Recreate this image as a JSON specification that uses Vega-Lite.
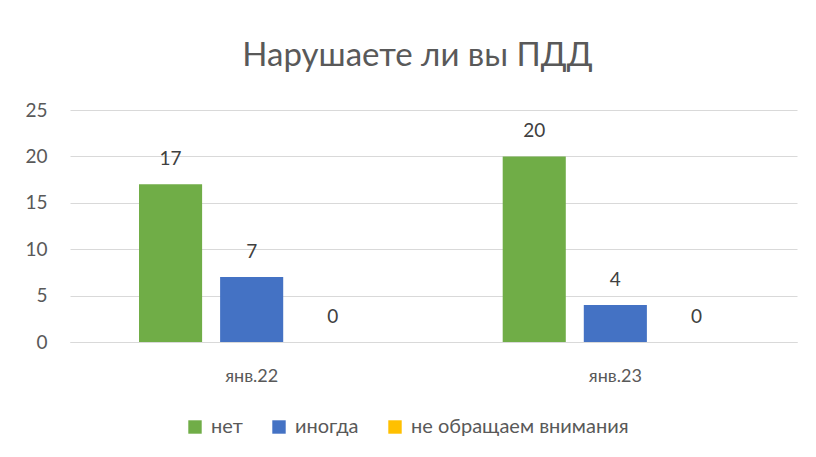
{
  "$schema": "https://vega.github.io/schema/vega-lite/v6.json",
  "width": 727,
  "height": 232,
  "autosize": {"type": "none"},
  "padding": {"left": 70, "top": 110, "right": 19, "bottom": 115},
  "background": "white",
  "config": {"view": {"stroke": null}},
  "title": {
    "text": "Нарушаете ли вы ПДД",
    "font": "Lato",
    "fontSize": 33,
    "fontWeight": "normal",
    "color": "#595959",
    "anchor": "middle",
    "baseline": "alphabetic",
    "offset": 2,
    "dx": -16
  },
  "data": {
    "values": [
      {"period": "янв.22", "answer": "нет", "value": 17},
      {"period": "янв.22", "answer": "иногда", "value": 7},
      {"period": "янв.22", "answer": "не обращаем внимания", "value": 0},
      {"period": "янв.23", "answer": "нет", "value": 20},
      {"period": "янв.23", "answer": "иногда", "value": 4},
      {"period": "янв.23", "answer": "не обращаем внимания", "value": 0}
    ]
  },
  "encoding": {
    "x": {
      "field": "period",
      "type": "nominal",
      "scale": {"paddingInner": 0.331, "paddingOuter": 0.165},
      "axis": {
        "title": null,
        "labelAngle": 0,
        "labelFont": "Lato",
        "labelFontSize": 18,
        "labelColor": "#595959",
        "labelPadding": 25,
        "ticks": false,
        "domainColor": "#d9d9d9",
        "domainWidth": 1
      }
    },
    "xOffset": {
      "field": "answer",
      "type": "nominal",
      "sort": ["нет", "иногда", "не обращаем внимания"],
      "scale": {"paddingInner": 0.222, "paddingOuter": 0.111}
    },
    "y": {
      "field": "value",
      "type": "quantitative",
      "scale": {"domain": [0, 25]},
      "axis": {
        "title": null,
        "values": [0, 5, 10, 15, 20, 25],
        "labelFont": "Lato",
        "labelFontSize": 19,
        "labelColor": "#595959",
        "labelPadding": 23,
        "ticks": false,
        "domain": false,
        "gridColor": "#d9d9d9",
        "gridWidth": 1
      }
    }
  },
  "layer": [
    {
      "mark": {"type": "bar"},
      "encoding": {
        "color": {
          "field": "answer",
          "type": "nominal",
          "sort": ["нет", "иногда", "не обращаем внимания"],
          "scale": {
            "domain": ["нет", "иногда", "не обращаем внимания"],
            "range": ["#70AD47", "#4472C4", "#FFC000"]
          },
          "legend": {
            "title": null,
            "orient": "none",
            "direction": "horizontal",
            "legendX": 115,
            "legendY": 307,
            "symbolType": "square",
            "symbolSize": 180,
            "symbolStrokeWidth": 0,
            "labelFont": "Lato",
            "labelFontSize": 20,
            "labelColor": "#595959",
            "labelLimit": 400,
            "columnPadding": 26,
            "labelOffset": 6
          }
        }
      }
    },
    {
      "mark": {
        "type": "text",
        "baseline": "bottom",
        "dy": -15,
        "font": "Lato",
        "fontSize": 19,
        "color": "#404040"
      },
      "encoding": {
        "text": {"field": "value", "type": "quantitative"}
      }
    }
  ]
}
